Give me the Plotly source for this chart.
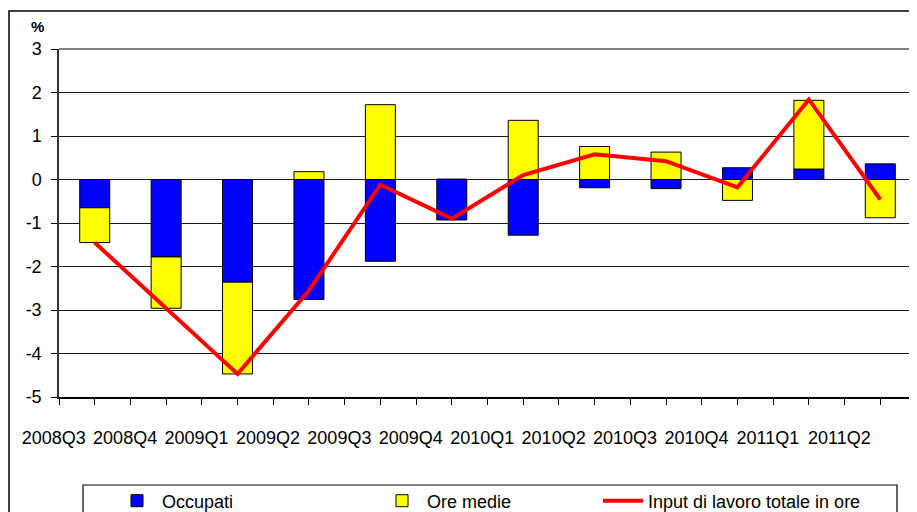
import plotly.graph_objects as go

quarters = ['2008Q3', '2008Q4', '2009Q1', '2009Q2', '2009Q3', '2009Q4',
            '2010Q1', '2010Q2', '2010Q3', '2010Q4', '2011Q1', '2011Q2']
occupati = [-0.65, -1.78, -2.36, -2.76, -1.88, -0.93,
            -1.28, -0.19, -0.21, 0.27, 0.24, 0.36]
ore_medie = [-0.80, -1.18, -2.11, 0.18, 1.72, 0.01,
             1.36, 0.76, 0.63, -0.48, 1.58, -0.88]
input_totale = [-1.45, -2.95, -4.47, -2.55, -0.12, -0.90,
                0.10, 0.58, 0.42, -0.18, 1.84, -0.46]
y_ticks = [3, 2, 1, 0, -1, -2, -3, -4, -5]
y_labels = ['3', '2', '1', '0', '-1', '-2', '-3', '-4', '-5']

FONT = 'Liberation Sans, Arial, sans-serif'
# the page body has an 8px margin, so the figure is a bit smaller than the window
OFF = 8
W, H = 909, 504
L, R, T, B = 51, 1, 41, 115
PW, PH = W - L - R, H - T - B


def px(x):
    # window pixel column -> paper x
    return (x - OFF - L) / PW


def py(y):
    # window pixel row -> paper y
    return (OFF + H - B - y) / PH


xs = list(range(len(quarters)))

fig = go.Figure()
fig.add_trace(go.Bar(
    x=xs, y=occupati, name='Occupati', width=0.42,
    marker=dict(color='#0000FF', line=dict(color='black', width=1)),
    legend='legend'
))
fig.add_trace(go.Bar(
    x=xs, y=ore_medie, name='Ore medie', width=0.42,
    marker=dict(color='#FFFF00', line=dict(color='black', width=1)),
    legend='legend2'
))
fig.add_trace(go.Scatter(
    x=xs, y=input_totale, name='Input di lavoro totale in ore',
    mode='lines', line=dict(color='#FF0000', width=4),
    legend='legend3'
))

legend_common = dict(
    orientation='h', yanchor='middle', xanchor='left',
    bgcolor='rgba(0,0,0,0)', borderwidth=0,
    font=dict(family=FONT, size=18, color='black'),
    itemwidth=40,
)

fig.update_layout(
    width=W, height=H,
    margin=dict(l=L, r=R, t=T, b=B, autoexpand=False),
    paper_bgcolor='white', plot_bgcolor='white',
    font=dict(family=FONT, size=18, color='black'),
    barmode='relative',
    showlegend=True,
    legend=dict(x=px(112), y=py(501), **legend_common),
    legend2=dict(x=px(377), y=py(501), **legend_common),
    legend3=dict(x=px(598), y=py(501), **legend_common),
    xaxis=dict(
        range=[-0.5, len(quarters) - 0.5],
        tickmode='array', tickvals=xs, ticktext=quarters,
        ticks='outside', ticklen=6, tickcolor='black', tickwidth=1,
        minor=dict(tickmode='linear', tick0=0.5, dtick=1,
                   ticks='outside', ticklen=6, tickcolor='black', tickwidth=1),
        ticklabelshift=-41, ticklabelstandoff=18,
        showline=True, linecolor='black', linewidth=1.5,
        showgrid=False, zeroline=False,
        tickfont=dict(family=FONT, size=18),
    ),
    yaxis=dict(
        range=[-5, 3],
        tickmode='array', tickvals=y_ticks, ticktext=y_labels,
        ticks='outside', ticklen=6, tickcolor='black', tickwidth=1,
        ticklabelstandoff=6,
        showline=True, linecolor='#333333', linewidth=1.5,
        showgrid=True, gridcolor='#1a1a1a', gridwidth=1,
        zeroline=False,
        tickfont=dict(family=FONT, size=18),
    ),
    annotations=[dict(
        text='<b>%</b>', x=px(37), y=py(27), xref='paper', yref='paper',
        xanchor='center', yanchor='middle',
        showarrow=False, font=dict(family=FONT, size=15, color='black')
    )],
    shapes=[
        # plot area top and right border
        dict(type='line', xref='paper', yref='paper', x0=0, x1=1, y0=1, y1=1,
             line=dict(color='#808080', width=2)),
        dict(type='line', xref='paper', yref='paper', x0=1, x1=1, y0=0, y1=1,
             line=dict(color='#808080', width=2)),
        # outer chart frame
        dict(type='rect', xref='paper', yref='paper',
             x0=px(9), x1=px(940), y0=py(11), y1=py(540),
             line=dict(color='black', width=1.5)),
        # legend frame
        dict(type='rect', xref='paper', yref='paper',
             x0=px(83), x1=px(897), y0=py(485), y1=py(540),
             line=dict(color='black', width=1.2)),
    ],
)

fig.write_html('out.html')
